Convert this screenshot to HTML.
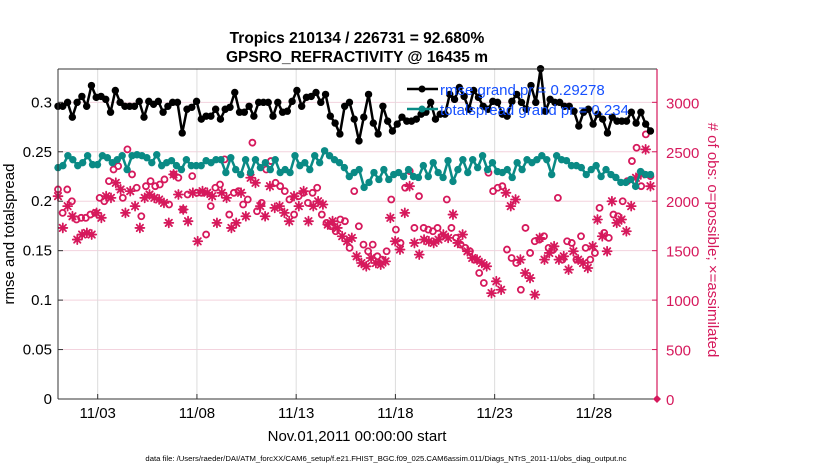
<!DOCTYPE html>
<html><head><meta charset="utf-8"><style>
body{margin:0;background:#fff;}
svg{display:block;font-family:"Liberation Sans",sans-serif;}
</style></head><body>
<svg id="chart" width="830" height="470" viewBox="0 0 830 470">
<g id="grid"></g>
<g id="marks"></g>
<g id="axes"></g>
<text x="357" y="43" text-anchor="middle" font-size="15.5" font-weight="bold">Tropics 210134 / 226731 = 92.680%</text>
<text x="357" y="62" text-anchor="middle" font-size="15.5" font-weight="bold">GPSRO_REFRACTIVITY @ 16435 m</text>
<text transform="translate(14,234) rotate(-90)" text-anchor="middle" font-size="15">rmse and totalspread</text>
<text transform="translate(708,240) rotate(90)" text-anchor="middle" font-size="15" fill="#d6195c"># of obs: o=possible; ×=assimilated</text>
<text x="357" y="441" text-anchor="middle" font-size="15">Nov.01,2011 00:00:00 start</text>
<text x="386" y="461" text-anchor="middle" font-size="7.7">data file: /Users/raeder/DAI/ATM_forcXX/CAM6_setup/f.e21.FHIST_BGC.f09_025.CAM6assim.011/Diags_NTrS_2011-11/obs_diag_output.nc</text>
<g>
<line x1="407" y1="89" x2="438" y2="89" stroke="#000" stroke-width="2.5"/>
<circle cx="422" cy="89" r="3.5" fill="#000"/>
<line x1="407" y1="109" x2="438" y2="109" stroke="#0a8a85" stroke-width="2.5"/>
<circle cx="422" cy="109" r="3.5" fill="#0a8a85"/>
<text x="440" y="95" font-size="15" fill="#1650ff">rmse grand pr = 0.29278</text>
<text x="440" y="115" font-size="15" fill="#1650ff">totalspread grand pr = 0.234</text>
</g>
</svg>
<script>
const xTickLabels=["11/03","11/08","11/13","11/18","11/23","11/28"];
const xTickDays=[2,7,12,17,22,27];
const yTicks=[0,0.05,0.1,0.15,0.2,0.25,0.3];
const yTickLabels=["0","0.05","0.1","0.15","0.2","0.25","0.3"];
const rTicks=[0,500,1000,1500,2000,2500,3000];
const rmse=[.296,.296,.300,.285,.300,.306,.296,.317,.305,.306,.303,.290,.312,.300,.296,.296,.296,.301,.285,.301,.298,.301,.290,.296,.300,.300,.269,.293,.295,.301,.283,.286,.286,.293,.283,.293,.295,.310,.290,.290,.296,.286,.300,.300,.300,.286,.300,.290,.291,.301,.312,.296,.305,.306,.310,.300,.308,.286,.279,.268,.296,.300,.283,.261,
.285,.308,.279,.268,.296,.281,.271,.278,.285,.281,.281,.283,.288,.290,.300,.283,.288,.288,.308,.303,.315,.306,.293,.312,.305,.296,.293,.301,.300,.288,.286,.301,.308,.300,.293,.317,.300,.334,.291,.303,.300,.300,.296,.296,.291,.276,.290,.293,.278,.288,.283,.269,.285,.281,.281,.281,.290,.279,.290,.278,.271];
const spread=[.234,.236,.246,.242,.236,.239,.246,.237,.237,.246,.244,.239,.242,.246,.232,.246,.247,.246,.244,.239,.247,.236,.239,.241,.236,.232,.242,.236,.236,.236,.241,.239,.242,.242,.229,.244,.232,.227,.242,.229,.242,.234,.239,.232,.242,.229,.232,.229,.246,.236,.239,.232,.246,.239,.251,.246,.242,.239,.234,.225,
.229,.232,.214,.219,.229,.222,.232,.222,.227,.229,.225,.232,.225,.224,.236,.225,.239,.229,.224,.241,.220,.232,.242,.229,.242,.234,.246,.232,.239,.230,.229,.232,.224,.239,.232,.242,.239,.242,.246,.242,.227,.246,.242,.241,.236,.236,.234,.227,.232,.236,.225,.232,.227,.224,.219,.219,.222,.215,.230,.227,.227];
const possible=[2119,1882,2119,2000,1815,1832,1832,1865,1882,2034,2000,2203,2321,2355,2034,2524,2271,2136,1848,2152,2203,2152,2169,2220,1967,2271,2237,1916,2068,2254,2085,2085,1663,1950,2136,2169,2423,1865,2085,2102,1967,2017,2592,1899,1983,2321,2406,2186,2152,2102,2017,1865,2051,2085,1983,2085,2136,1865,1781,1747,1696,1815,1798,1528,2102,1747,1561,1494,
1561,1443,1409,1494,2017,1713,1578,2136,2304,1730,2051,1730,1713,1696,1730,1646,2017,1730,1629,1561,1528,1494,1409,1274,1173,2288,2102,2136,2152,1511,1426,1375,1105,1730,1477,1595,1612,1646,1528,1511,2034,1409,1595,1578,1409,1646,1528,1409,1477,1933,1680,1629,1865,1848,2000,2203,2406,2541,2152,2676,2254];
const assimilated=[2051,1730,1950,1848,1612,1663,1680,1663,1882,1832,2051,2034,2186,2119,1882,2102,1950,1730,2034,2068,2034,2017,1983,1781,2271,2068,1916,1798,2085,1595,2102,2085,2051,1781,2085,2034,1730,1781,2085,1848,2237,2186,1950,1848,2152,1933,1950,1882,1798,2051,1950,2102,1798,1950,2000,1967,1764,1798,1730,1646,1595,1629,1443,1375,1342,
1426,1375,1359,1392,1832,1595,1511,1882,2152,1578,1460,1612,1595,1578,1612,1663,1629,1865,1578,1663,1494,1426,1409,1375,1342,1071,1190,1105,2085,1950,2017,1409,1274,1223,1055,1629,1409,1477,1544,1409,1443,1308,1494,1409,1375,1325,1544,1815,1646,1494,2000,1781,1815,1696,1950,2237,2271,2524,2152];
const XL=58,XR=657,YT=69,YB=399,TMAX=30.18,VMAX=0.3337;
const NS='http://www.w3.org/2000/svg';
const xs=t=>XL+(XR-XL)*t/TMAX;
const yv=v=>YB-(YB-YT)*v/VMAX;
const yc=c=>yv(c/10000);
const tOf=(i,n)=>i*29.85/(n-1);
function el(tag,attrs,parent){const e=document.createElementNS(NS,tag);for(const k in attrs)e.setAttribute(k,attrs[k]);parent.appendChild(e);return e;}
const grid=document.getElementById('grid'),marks=document.getElementById('marks'),axes=document.getElementById('axes');
yTicks.forEach((v,i)=>{if(v>0){const g=el('line',{x1:XL,x2:XR,y1:yv(v),y2:yv(v),stroke:'#f3d3de','stroke-width':1},grid);

}
const t=el('text',{x:XL-6,y:yv(v)+5,'text-anchor':'end','font-size':15},axes);t.textContent=yTickLabels[i];


el('line',{x1:XL,x2:XL+5,y1:yv(v),y2:yv(v),stroke:'#333'},axes);});
rTicks.forEach(c=>{const t=el('text',{x:XR+9,y:yc(c)+6,'font-size':15,fill:'#d6195c'},axes);t.textContent=c;


el('line',{x1:XR-5,x2:XR,y1:yc(c),y2:yc(c),stroke:'#d6195c'},axes);});
xTickDays.forEach((d,i)=>{const x=xs(d);
const g=el('line',{x1:x,x2:x,y1:YT,y2:YB,stroke:'#dcdcdc'},grid);


el('line',{x1:x,x2:x,y1:YB,y2:YB-5,stroke:'#333'},axes);
const t=el('text',{x:x,y:418,'text-anchor':'middle','font-size':15},axes);t.textContent=xTickLabels[i];

});
el('line',{x1:XL,x2:XR,y1:YT,y2:YT,stroke:'#333'},axes);
el('line',{x1:XL,x2:XR,y1:YB,y2:YB,stroke:'#333'},axes);
el('line',{x1:XL,x2:XL,y1:YT,y2:YB,stroke:'#333'},axes);
el('line',{x1:XR,x2:XR,y1:YT,y2:YB,stroke:'#d6195c','stroke-width':1.2},axes);
el('path',{d:`M${XR},${YB-4}L${XR+4},${YB}L${XR},${YB+4}L${XR-4},${YB}Z`,fill:'#d6195c'},axes);
possible.forEach((c,i)=>{const m=el('circle',{cx:xs(tOf(i,possible.length)),cy:yc(c),r:3,fill:'none',stroke:'#d6195c','stroke-width':1.8},marks);

});
assimilated.forEach((c,i)=>{const x=xs(tOf(i,assimilated.length)),y=yc(c),s=4.5,d=s*0.707;
const m=el('path',{d:`M${x-s},${y}L${x+s},${y}M${x},${y-s}L${x},${y+s}M${x-d},${y-d}L${x+d},${y+d}M${x-d},${y+d}L${x+d},${y-d}`,stroke:'#d6195c','stroke-width':1.8,'stroke-linecap':'round'},marks);

});
function series(arr,color,name){const pts=arr.map((v,i)=>[xs(tOf(i,arr.length)),yv(v)]);
const p=el('polyline',{points:pts.map(p=>p.join(',')).join(' '),fill:'none',stroke:color,'stroke-width':2.5,'stroke-linejoin':'round'},marks);


pts.forEach(q=>{const c=el('circle',{cx:q[0],cy:q[1],r:3.7,fill:color},marks);

});}
series(spread,'#0a8a85','totalspread');
series(rmse,'#000','rmse');
</script>
</body></html>
